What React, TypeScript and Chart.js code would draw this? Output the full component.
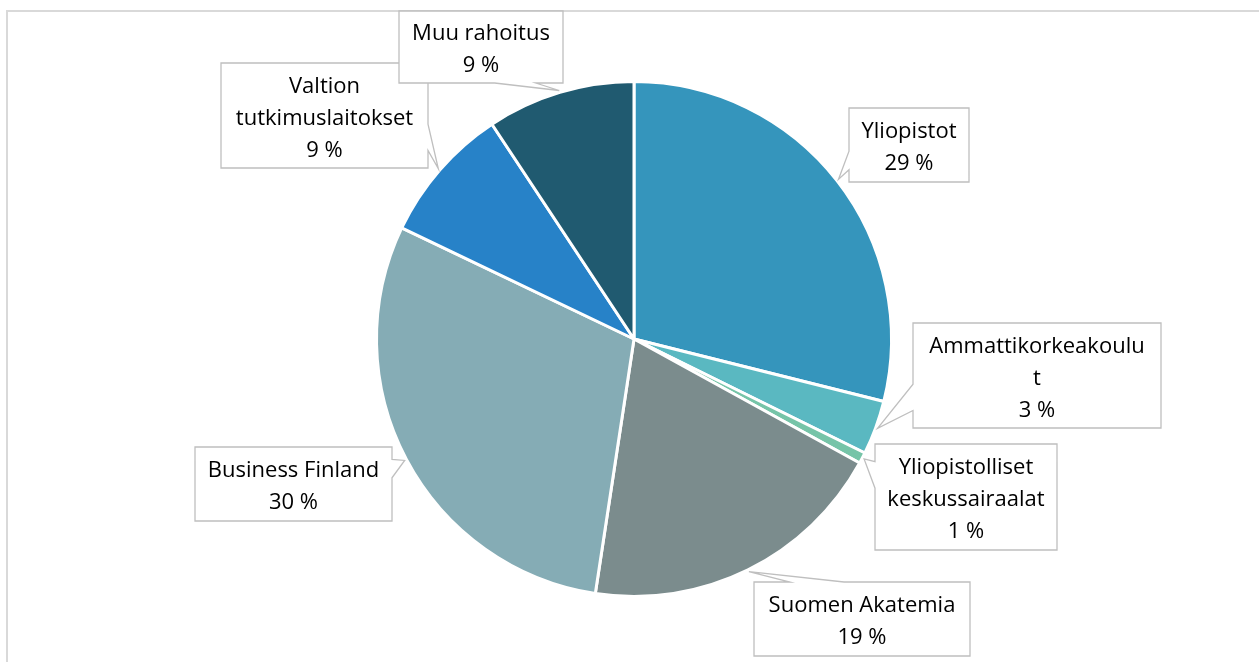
import React, { useEffect, useRef } from 'react';
import { Chart, registerables } from 'chart.js';

Chart.register(...registerables);

// ---- data ----
const categories = [
  'Yliopistot',
  'Ammattikorkeakoulut',
  'Yliopistolliset keskussairaalat',
  'Suomen Akatemia',
  'Business Finland',
  'Valtion tutkimuslaitokset',
  'Muu rahoitus',
];
const values = [28.9, 3.4, 0.7, 19.4, 29.7, 8.6, 9.3];
// label text as wrapped in the reference
const labelLines = [
  ['Yliopistot'],
  ['Ammattikorkeakoulu', 't'],
  ['Yliopistolliset', 'keskussairaalat'],
  ['Suomen Akatemia'],
  ['Business Finland'],
  ['Valtion', 'tutkimuslaitokset'],
  ['Muu rahoitus'],
];

// ---- styles / layout ----
const colors = ['#3595BC', '#5AB8C1', '#76C4A8', '#7B8C8D', '#85ACB5', '#2782C8', '#205A70'];
// callout boxes: left, top, width, height (layout only)
const calloutBoxes = [
  [849, 108, 120, 74],
  [913, 323, 248, 105],
  [875, 444, 182, 106],
  [754, 582, 216, 74],
  [195, 447, 197, 74],
  [221, 63, 207, 105],
  [399, 11, 164, 72],
];
const FONT = '22px "Open Sans"';
const LINE_H = 32;

const calloutPlugin = {
  id: 'callouts',
  beforeDraw(chart: any) {
    const ctx = chart.ctx;
    ctx.save();
    ctx.strokeStyle = '#d9d9d9';
    ctx.lineWidth = 2;
    ctx.strokeRect(7, 11, 1400, 800);
    ctx.restore();
  },
  afterDatasetsDraw(chart: any) {
    const ctx = chart.ctx;
    const meta = chart.getDatasetMeta(0);
    const data = chart.data.datasets[0].data as number[];
    const total = data.reduce((a, b) => a + b, 0);
    meta.data.forEach((arc: any, i: number) => {
      const p = arc.getProps(['x', 'y', 'startAngle', 'endAngle', 'outerRadius'], true);
      const mid = (p.startAngle + p.endAngle) / 2;
      const tx = p.x + Math.cos(mid) * (p.outerRadius + 2);
      const ty = p.y + Math.sin(mid) * (p.outerRadius + 2);
      const [bx, by, bw, bh] = calloutBoxes[i];
      const cx = bx + bw / 2;
      const cy = by + bh / 2;
      const dx = tx - cx;
      const dy = ty - cy;
      const horiz = Math.abs(dx) * bh > Math.abs(dy) * bw;
      const b1 = dy > 0 ? (bh * 7) / 12 : (bh * 2) / 12;
      const b2 = dy > 0 ? (bh * 10) / 12 : (bh * 5) / 12;
      const a1 = dx > 0 ? (bw * 7) / 12 : (bw * 2) / 12;
      const a2 = dx > 0 ? (bw * 10) / 12 : (bw * 5) / 12;
      const pts: number[][] = [];
      pts.push([bx, by]);
      if (!horiz && dy < 0) pts.push([bx + a1, by], [tx, ty], [bx + a2, by]);
      pts.push([bx + bw, by]);
      if (horiz && dx > 0) pts.push([bx + bw, by + b1], [tx, ty], [bx + bw, by + b2]);
      pts.push([bx + bw, by + bh]);
      if (!horiz && dy > 0) pts.push([bx + a2, by + bh], [tx, ty], [bx + a1, by + bh]);
      pts.push([bx, by + bh]);
      if (horiz && dx < 0) pts.push([bx, by + b2], [tx, ty], [bx, by + b1]);
      ctx.save();
      ctx.beginPath();
      pts.forEach(([x, y], k) => (k === 0 ? ctx.moveTo(x, y) : ctx.lineTo(x, y)));
      ctx.closePath();
      ctx.fillStyle = '#ffffff';
      ctx.fill();
      ctx.strokeStyle = '#bfbfbf';
      ctx.lineWidth = 1.3;
      ctx.lineJoin = 'miter';
      ctx.stroke();
      const pct = Math.round((data[i] / total) * 100);
      const lines = [...labelLines[i], `${pct} %`];
      ctx.fillStyle = '#000000';
      ctx.font = FONT;
      ctx.textAlign = 'center';
      ctx.textBaseline = 'middle';
      lines.forEach((ln, k) => {
        ctx.fillText(ln, cx, cy + 3 + (k - (lines.length - 1) / 2) * LINE_H);
      });
      ctx.restore();
    });
  },
};

export default function App() {
  const ref = useRef<HTMLCanvasElement | null>(null);
  useEffect(() => {
    if (!ref.current) return;
    const chart = new Chart(ref.current, {
      type: 'pie',
      data: {
        labels: categories,
        datasets: [
          {
            data: values,
            backgroundColor: colors,
            borderColor: '#ffffff',
            borderWidth: 3,
          },
        ],
      },
      options: {
        responsive: false,
        maintainAspectRatio: false,
        animation: false,
        radius: 257.5,
        layout: { padding: { left: 334, right: 325, top: 39, bottom: 23 } },
        plugins: {
          legend: { display: false },
          tooltip: { enabled: false },
        },
      },
      plugins: [calloutPlugin],
    } as any);
    return () => chart.destroy();
  }, []);
  return (
    <div style={{ position: 'fixed', left: 0, top: 0, width: 1259, height: 662, overflow: 'hidden', background: '#fff' }}>
      <canvas ref={ref} width={1259} height={662} style={{ display: 'block' }} />
    </div>
  );
}
